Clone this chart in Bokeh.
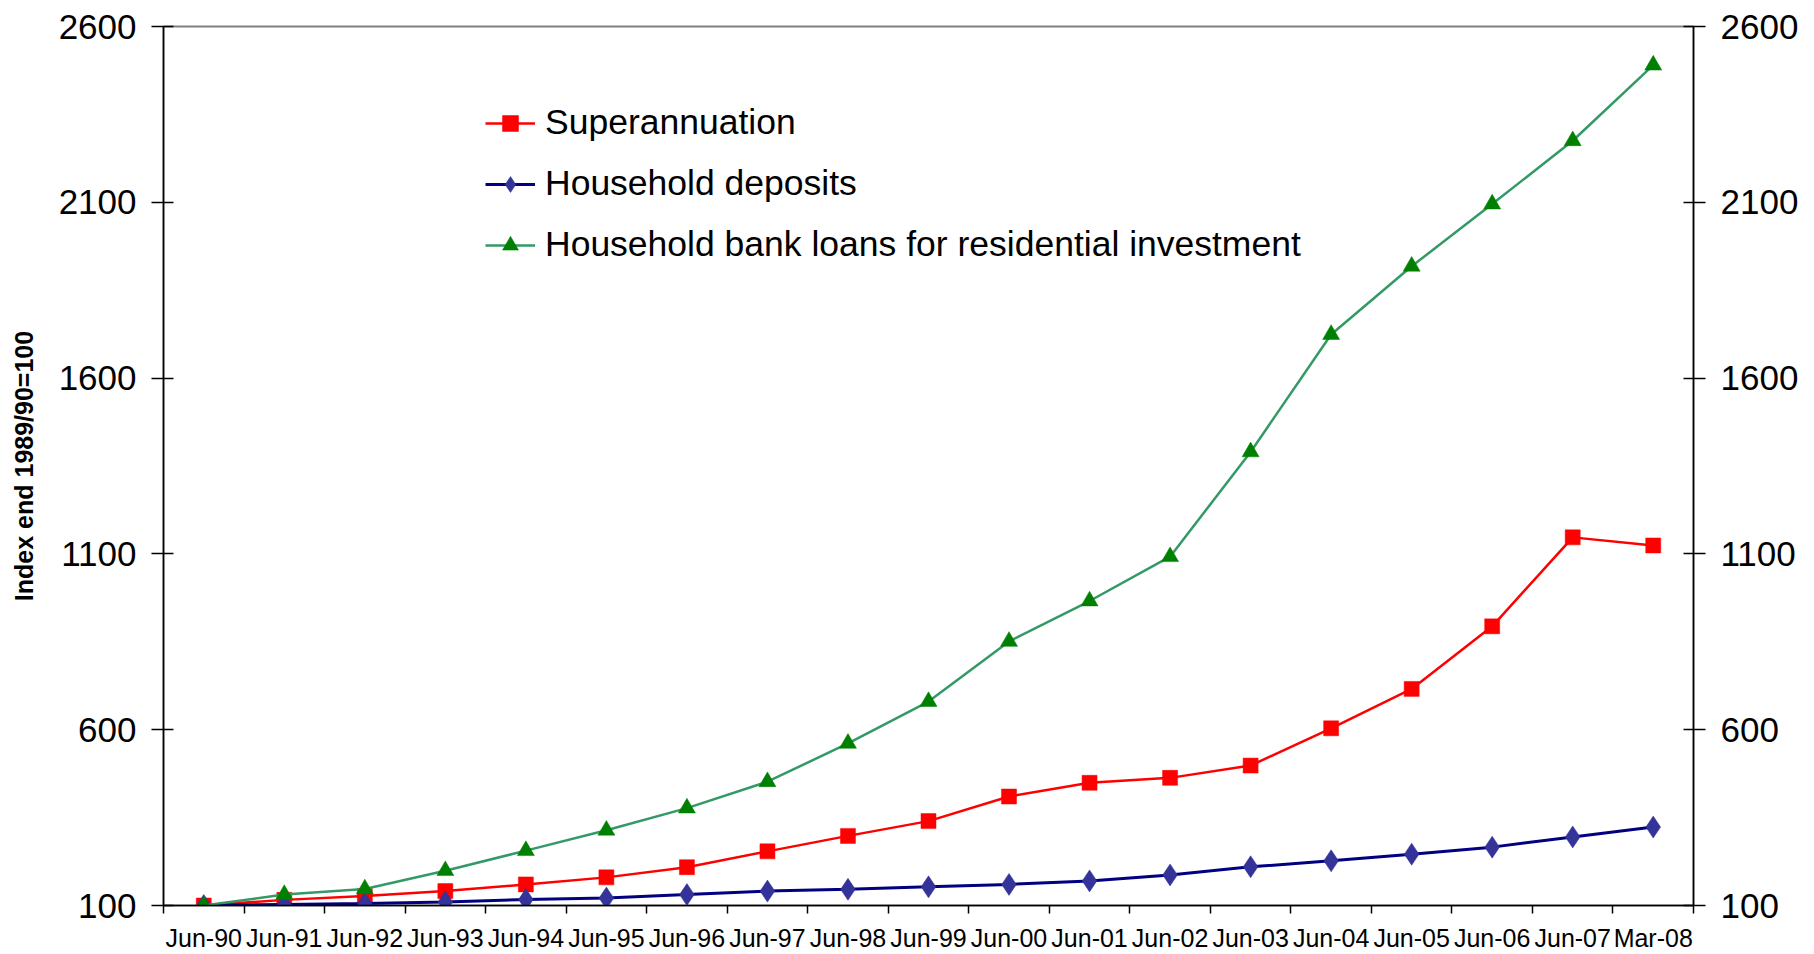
from bokeh.plotting import figure
from bokeh.models import (Range1d, LinearAxis, FixedTicker, CustomJSTickFormatter,
                          Legend, LegendItem)
from bokeh.embed import file_html
from bokeh.resources import INLINE

# Periods (end of financial year, last one March 2008)
periods = ["Jun-90", "Jun-91", "Jun-92", "Jun-93", "Jun-94", "Jun-95", "Jun-96",
           "Jun-97", "Jun-98", "Jun-99", "Jun-00", "Jun-01", "Jun-02", "Jun-03",
           "Jun-04", "Jun-05", "Jun-06", "Jun-07", "Mar-08"]

# Index values, end 1989/90 = 100
superannuation = [100, 116, 127, 141, 160, 180, 209, 254, 298, 340, 410, 449,
                  463, 498, 604, 716, 894, 1147, 1124]
household_deposits = [100, 103, 106, 110, 117, 121, 131, 141, 146, 153, 160, 170,
                      187, 210, 227, 246, 266, 295, 323]
housing_loans = [100, 131, 147, 199, 256, 314, 377, 452, 561, 680, 851, 966,
                 1092, 1390, 1724, 1918, 2095, 2275, 2490]

y_ticks = [100, 600, 1100, 1600, 2100, 2600]

FONT = "Liberation Sans"

# each period occupies one unit on the x scale; marks sit in the middle
xs = [i + 0.5 for i in range(len(periods))]

p = figure(width=1814, height=954, output_backend="svg", toolbar_location=None,
           x_range=Range1d(0, len(periods)), y_range=Range1d(100, 2600),
           min_border_left=163, min_border_right=121, min_border_top=26,
           min_border_bottom=49, x_axis_type=None, y_axis_type=None,
           background_fill_color="white", border_fill_color="white")
p.grid.visible = False
p.outline_line_color = "#808080"
p.outline_line_width = 2

# x axis: tick marks between periods, labels centred under each period
xaxis = LinearAxis(
    ticker=FixedTicker(ticks=xs, minor_ticks=list(range(len(periods) + 1))),
    formatter=CustomJSTickFormatter(args=dict(labels=periods),
                                    code="return labels[Math.floor(tick)];"),
    major_tick_in=0, major_tick_out=0,
    minor_tick_in=0, minor_tick_out=8, minor_tick_line_color="black",
    minor_tick_line_width=1.5,
    axis_line_color="black", axis_line_width=1.5,
    major_label_text_font=FONT, major_label_text_font_size="25px",
    major_label_text_color="black", major_label_standoff=10)
p.add_layout(xaxis, "below")


def y_axis(**kw):
    return LinearAxis(
        ticker=FixedTicker(ticks=y_ticks, minor_ticks=[]),
        major_tick_in=10, major_tick_out=12, major_tick_line_color="black",
        major_tick_line_width=1.5,
        axis_line_color="black", axis_line_width=1.5,
        major_label_text_font=FONT, major_label_text_font_size="35px",
        major_label_text_color="black", major_label_standoff=15, **kw)


left = y_axis(axis_label="Index end 1989/90=100",
              axis_label_text_font=FONT, axis_label_text_font_size="25px",
              axis_label_text_font_style="bold", axis_label_text_color="black",
              axis_label_standoff=18)
p.add_layout(left, "left")
p.add_layout(y_axis(), "right")

series = [
    ("Superannuation", superannuation, "#FF0000", 2.5, "square", "#FF0000", 15),
    ("Household deposits", household_deposits, "#000080", 3, "diamond", "#333399", 22),
    ("Household bank loans for residential investment", housing_loans,
     "#339966", 2.5, "triangle", "#008000", 17),
]

items = []
for label, ys, line_color, lw, marker, fill, size in series:
    r_line = p.line(xs, ys, line_color=line_color, line_width=lw)
    r_mark = p.scatter(xs, ys, marker=marker, size=size, fill_color=fill,
                       line_color=fill, line_width=0.5)
    items.append(LegendItem(label=label, renderers=[r_line, r_mark]))

legend = Legend(items=items, location=(322, 640), orientation="vertical",
                border_line_color=None, background_fill_alpha=0,
                padding=0, margin=0, spacing=20,
                glyph_width=50, glyph_height=40, label_standoff=10,
                label_text_font=FONT, label_text_font_size="35.5px",
                label_text_color="black")
p.add_layout(legend, "center")

open("out.html", "w").write(file_html(p, INLINE))
